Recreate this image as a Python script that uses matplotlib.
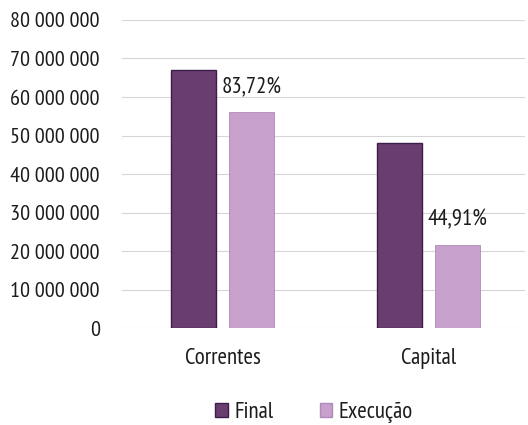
import numpy as np
from matplotlib import pyplot as plt
from matplotlib.patches import Patch

plt.rcParams['font.family'] = ['PT Sans Narrow', 'Fira Sans Condensed', 'DejaVu Sans']

categorias = ["Correntes", "Capital"]
final = [66_900_000, 48_000_000]
execucao = [56_010_000, 21_560_000]
percentagens = ["83,72%", "44,91%"]
yticks = [0, 10_000_000, 20_000_000, 30_000_000, 40_000_000,
          50_000_000, 60_000_000, 70_000_000, 80_000_000]

cor_final = "#6a3d70"
cor_exec = "#c8a0cc"
cor_texto = "#1c1c1c"

fig = plt.figure(figsize=(5.28, 4.25), dpi=100)
ax = fig.add_axes([0.231, 0.228, 0.763, 0.725])

x = np.arange(len(categorias))
w = 0.219
off = 0.141
ax.bar(x - off, final, w, color=cor_final, edgecolor="#3b1f48", linewidth=1.0, zorder=3)
ax.bar(x + off, execucao, w, color=cor_exec, edgecolor="#b08ab8", linewidth=0.6, zorder=3)

# percentagem de execucao por cima de cada barra clara
for xi, v, txt in zip(x, execucao, percentagens):
    ax.annotate(txt, (xi + off, v), xytext=(0, 18), textcoords="offset points",
                ha="center", va="center", fontsize=16.5, color=cor_texto)

ax.set_xlim(-0.489, 1.47)
ax.set_ylim(0, 80_000_000)
ax.set_yticks(yticks)
ax.set_yticklabels(["{:,}".format(v).replace(",", " ") for v in yticks])
ax.set_xticks(x)
ax.set_xticklabels(categorias)
ax.tick_params(axis="y", length=0, pad=16, labelsize=16, labelcolor=cor_texto)
ax.tick_params(axis="x", length=0, pad=14, labelsize=16.5, labelcolor=cor_texto)
ax.grid(axis="y", color="#d6d6d6", linewidth=0.8, zorder=0)
for s in ax.spines.values():
    s.set_visible(False)

handles = [Patch(facecolor=cor_final, edgecolor="#3b1f48", label="Final"),
           Patch(facecolor=cor_exec, edgecolor="#b08ab8", label="Execução")]
fig.legend(handles=handles, loc="center", bbox_to_anchor=(0.595, 0.03), ncol=2,
           frameon=False, fontsize=16.5, handlelength=0.55, handleheight=0.55,
           handletextpad=0.3, columnspacing=2.0, labelcolor=cor_texto,
           borderpad=0.2)

fig.savefig("out.png", dpi=100)
